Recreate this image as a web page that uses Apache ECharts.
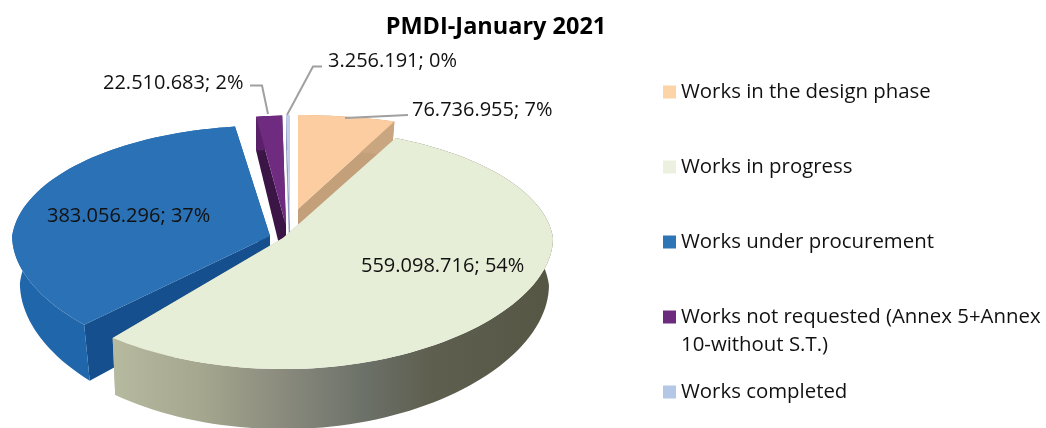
<!DOCTYPE html>
<html>
<head>
<meta charset="utf-8">
<style>html,body{margin:0;padding:0;background:#fff}#c{width:1046px;height:428px}</style>
<script src="https://cdn.jsdelivr.net/npm/echarts@6/dist/echarts.min.js"></script>
</head>
<body>
<div id="c"></div>
<script>
// ---- data ----
var categories = ['Works in the design phase','Works in progress','Works under procurement','Works not requested (Annex 5+Annex 10-without S.T.)','Works completed'];
var values = [76736955, 559098716, 383056296, 22510683, 3256191];
var chartTitle = 'PMDI-January 2021';

// ---- presentation ----
var FONT = '"Open Sans", sans-serif';
var FS = 20, LEGEND_FS = 20.4;
var legendColors = ['#fdd3a8','#ebf1de','#2e75b6','#6b2c7d','#b4c7e7'];
var topColors = ['#fbcda0','#e7eed7','#2b71b6','#6f2b80','#c3cdea'];
var wallColors = ['#c9a67f',null,'#1f66ab','#5a2069','#8f9ac0'];
var edgeColors = ['#c4a07a','#b4b89e','#154f8e','#3a1546','#8f9ac0'];
var apexes = [[298,209],[283,238],[270,236],[286,226],[290,226]];
var xScales = [1,1,0.955,0.77,0.8];
var yScales = [0.85,1,1,1,1];
var shrinks = [0.97,0.985,0.97,1,1];
var angleTweaks = [[0,-4],[0,0],[7,0.5],[0,0],[0,0]];
var drawOrder = [0,4,3,2,1];
var labelPos = [[412,110],[361,266],[47,216],[103,83],[328,61]];
var leaders = [[[408,115],[345,118]],null,null,[[250,85.5],[262,85.5],[268,114]],[[322,66.5],[313,66.5],[287,115]]];
var legendCenters = [92,167,242,317,392];

var total = values.reduce(function(a,b){return a+b;},0);
function dotted(n){return String(n).replace(/\B(?=(\d{3})+$)/g,'.');}
function labelText(i){return dotted(values[i])+'; '+Math.round(values[i]/total*100)+'%';}
var ranges = (function(){var s=0;return values.map(function(v){var e=s+v/total*360;var r=[s,e];s=e;return r;});})();

var RX = 270;
function project(i,deg){
  var t=deg*Math.PI/180,u=Math.sin(t),v=Math.cos(t),a=apexes[i];
  return [a[0]+RX*xScales[i]*u*(1-0.07*Math.max(v,0)), a[1]-(120.8*v-10.3*v*v)*yScales[i]];
}
function depth(v){return 47-13*v;}
function down(i,p,deg){var v=Math.cos(deg*Math.PI/180),a=apexes[i];return [a[0]+(p[0]-a[0])*shrinks[i],p[1]+depth(v)];}

function sliceChildren(i){
  var a=ranges[i][0]+angleTweaks[i][0], b=ranges[i][1]+angleTweaks[i][1], n=Math.max(4,Math.ceil((b-a)/2));
  var arc=[],low=[];
  for(var k=0;k<=n;k++){var d=a+(b-a)*k/n,p=project(i,d);arc.push(p);low.push(down(i,p,d));}
  var ap=apexes[i], apLow=[ap[0],ap[1]+depth(0)];
  var kids=[];
  var wallFill = i===1 ? {type:'linear',x:112,y:0,x2:552,y2:0,global:true,colorStops:[
      {offset:0,color:'#b6ba9f'},{offset:0.2,color:'#a5a78f'},{offset:0.42,color:'#85867a'},
      {offset:0.58,color:'#6b7068'},{offset:0.72,color:'#5e5f4f'},{offset:1,color:'#565645'}]} : wallColors[i];
  kids.push({type:'polygon',shape:{points:[ap,arc[0],low[0],apLow]},style:{fill:edgeColors[i]}});
  kids.push({type:'polygon',shape:{points:[ap,arc[n],low[n],apLow]},style:{fill:edgeColors[i]}});
  kids.push({type:'polygon',shape:{points:arc.concat(low.slice().reverse())},style:{fill:wallFill}});
  kids.push({type:'polygon',shape:{points:[ap].concat(arc)},style:{fill:topColors[i]}});
  if(leaders[i]) kids.push({type:'polyline',shape:{points:leaders[i]},style:{fill:null,stroke:'#a0a0a0',lineWidth:2}});
  kids.push({type:'text',x:labelPos[i][0],y:labelPos[i][1],style:{text:labelText(i),font:FS+'px '+FONT,fill:'#111',textAlign:'left',textVerticalAlign:'middle'}});
  return kids;
}

var series = drawOrder.map(function(i,z){
  return {type:'custom',name:categories[i],coordinateSystem:'none',data:[[values[i]]],silent:true,z:2+z,animation:false,
    itemStyle:{color:legendColors[i]},
    renderItem:function(){return {type:'group',children:sliceChildren(i)};}};
});

var LH = 28;
var legends = categories.map(function(name,i){
  var wrap = name.indexOf('Annex 10')>=0;
  return {show:true,orient:'vertical',left:663,top:wrap?legendCenters[i]-1.5*LH:legendCenters[i]-LH/2,padding:0,itemWidth:13,itemHeight:13,selectedMode:false,icon:'rect',
    data:[{name:name,itemStyle:{color:legendColors[i]}}],
    formatter:function(s){return wrap?'\n'+s.replace('Annex 10','Annex\n10'):s;},
    textStyle:{fontFamily:FONT,fontSize:LEGEND_FS,color:'#111',lineHeight:LH}};
});

var chart = echarts.init(document.getElementById('c'),null,{renderer:'canvas'});
chart.setOption({
  animation:false,
  backgroundColor:'#fff',
  title:{text:chartTitle,left:496,top:27,textAlign:'center',textVerticalAlign:'middle',padding:0,
    textStyle:{fontFamily:FONT,fontSize:23.5,fontWeight:'bold',color:'#000'}},
  legend:legends,
  series:series
});
</script>
</body>
</html>
